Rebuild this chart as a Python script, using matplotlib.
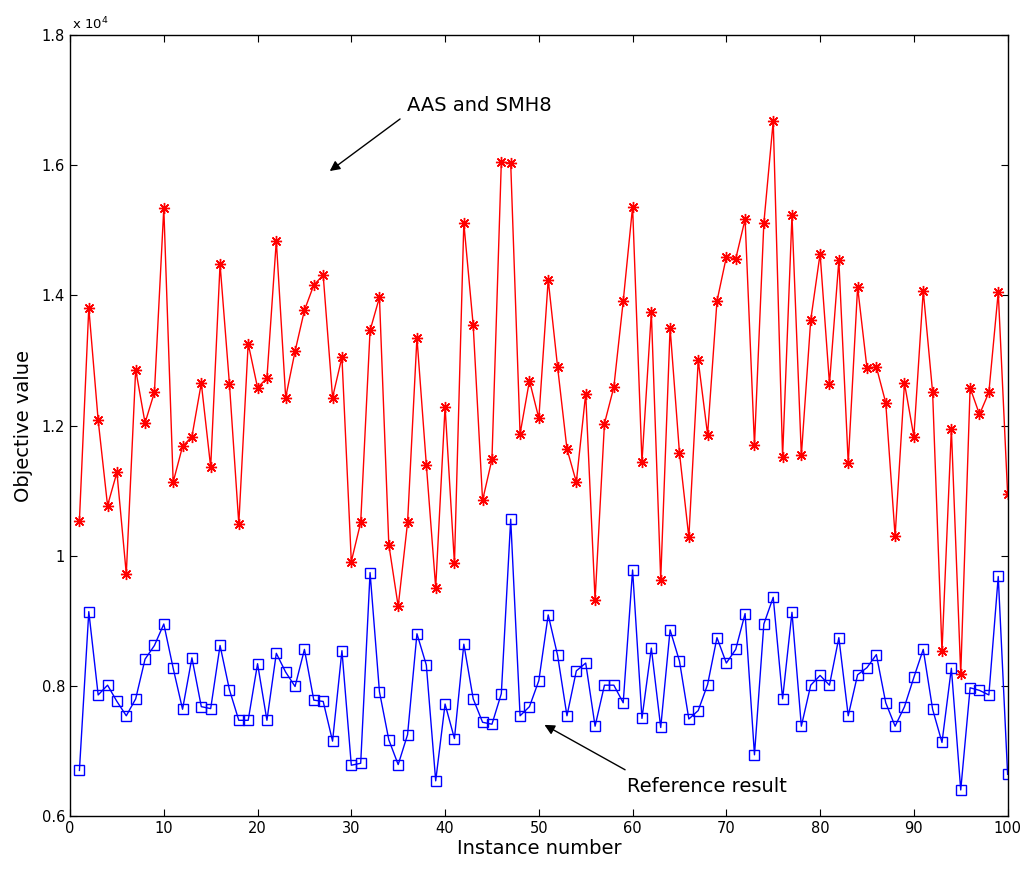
import numpy as np
import matplotlib
matplotlib.use("Agg")
import matplotlib.pyplot as plt
from matplotlib.ticker import FormatStrFormatter

# objective values, in units of 1e4
instances = np.arange(1, 101)

aas_smh8 = [
    1.054, 1.381, 1.208, 1.077, 1.128, 0.972, 1.286, 1.204, 1.251, 1.534,
    1.113, 1.168, 1.183, 1.265, 1.136, 1.448, 1.264, 1.049, 1.326, 1.258,
    1.273, 1.484, 1.243, 1.314, 1.377, 1.416, 1.431, 1.243, 1.305, 0.991,
    1.051, 1.346, 1.397, 1.017, 0.922, 1.051, 1.335, 1.140, 0.951, 1.229,
    0.988, 1.511, 1.354, 1.085, 1.148, 1.605, 1.603, 1.187, 1.269, 1.211,
    1.424, 1.290, 1.164, 1.113, 1.249, 0.932, 1.203, 1.259, 1.391, 1.536,
    1.144, 1.374, 0.963, 1.350, 1.158, 1.028, 1.300, 1.186, 1.391, 1.459,
    1.456, 1.517, 1.170, 1.511, 1.668, 1.152, 1.523, 1.154, 1.362, 1.464,
    1.264, 1.454, 1.142, 1.413, 1.288, 1.290, 1.235, 1.030, 1.265, 1.183,
    1.407, 1.251, 0.853, 1.195, 0.818, 1.258, 1.217, 1.251, 1.405, 1.095,
]

reference = [
    0.670, 0.914, 0.786, 0.801, 0.776, 0.754, 0.780, 0.841, 0.862, 0.895,
    0.827, 0.764, 0.843, 0.768, 0.765, 0.862, 0.794, 0.747, 0.747, 0.834,
    0.747, 0.850, 0.821, 0.799, 0.856, 0.778, 0.776, 0.715, 0.854, 0.678,
    0.681, 0.974, 0.791, 0.717, 0.679, 0.725, 0.880, 0.832, 0.654, 0.772,
    0.719, 0.864, 0.780, 0.744, 0.741, 0.788, 1.056, 0.754, 0.768, 0.808,
    0.909, 0.847, 0.754, 0.823, 0.835, 0.738, 0.801, 0.801, 0.774, 0.978,
    0.750, 0.858, 0.736, 0.886, 0.838, 0.749, 0.762, 0.802, 0.874, 0.835,
    0.856, 0.911, 0.694, 0.895, 0.936, 0.780, 0.913, 0.738, 0.801, 0.816,
    0.801, 0.874, 0.754, 0.817, 0.828, 0.848, 0.774, 0.738, 0.768, 0.813,
    0.856, 0.764, 0.713, 0.827, 0.640, 0.797, 0.793, 0.786, 0.968, 0.664,
]

fig = plt.figure(figsize=(10.24, 8.69), dpi=100)
ax = fig.add_axes([0.0684, 0.061, 0.9156, 0.8987])

ax.plot(instances, aas_smh8, color="red", linewidth=1, marker=(8, 2, 0),
        markersize=8, markeredgewidth=1)
ax.plot(instances, reference, color="blue", linewidth=1, marker="s",
        markersize=7, markerfacecolor="none", markeredgewidth=1)

ax.set_xlim(0, 100)
ax.set_ylim(0.6, 1.8)
ax.set_xticks(np.arange(0, 101, 10))
ax.set_yticks(np.arange(0.6, 1.81, 0.2))
ax.yaxis.set_major_formatter(FormatStrFormatter("%g"))
ax.tick_params(direction="in", top=True, right=True, labelsize=10.5, length=5)
for s in ax.spines.values():
    s.set_linewidth(1)

ax.set_xlabel("Instance number", fontsize=14, labelpad=2)
ax.set_ylabel("Objective value", fontsize=14, labelpad=6)
fig.text(0.07, 0.972, r"x 10$^4$", fontsize=9.5, ha="left", va="center")

arrow = dict(arrowstyle="-|>", color="black", lw=1, shrinkA=0, shrinkB=0,
             mutation_scale=15)
ax.annotate("", xy=(27.7, 1.591), xytext=(35.2, 1.671), arrowprops=arrow)
ax.text(35.9, 1.692, "AAS and SMH8", fontsize=14, ha="left", va="center")
ax.annotate("", xy=(50.6, 0.740), xytext=(59.2, 0.671), arrowprops=arrow)
ax.text(59.4, 0.645, "Reference result", fontsize=14, ha="left", va="center")

fig.savefig("out.png", dpi=100)
